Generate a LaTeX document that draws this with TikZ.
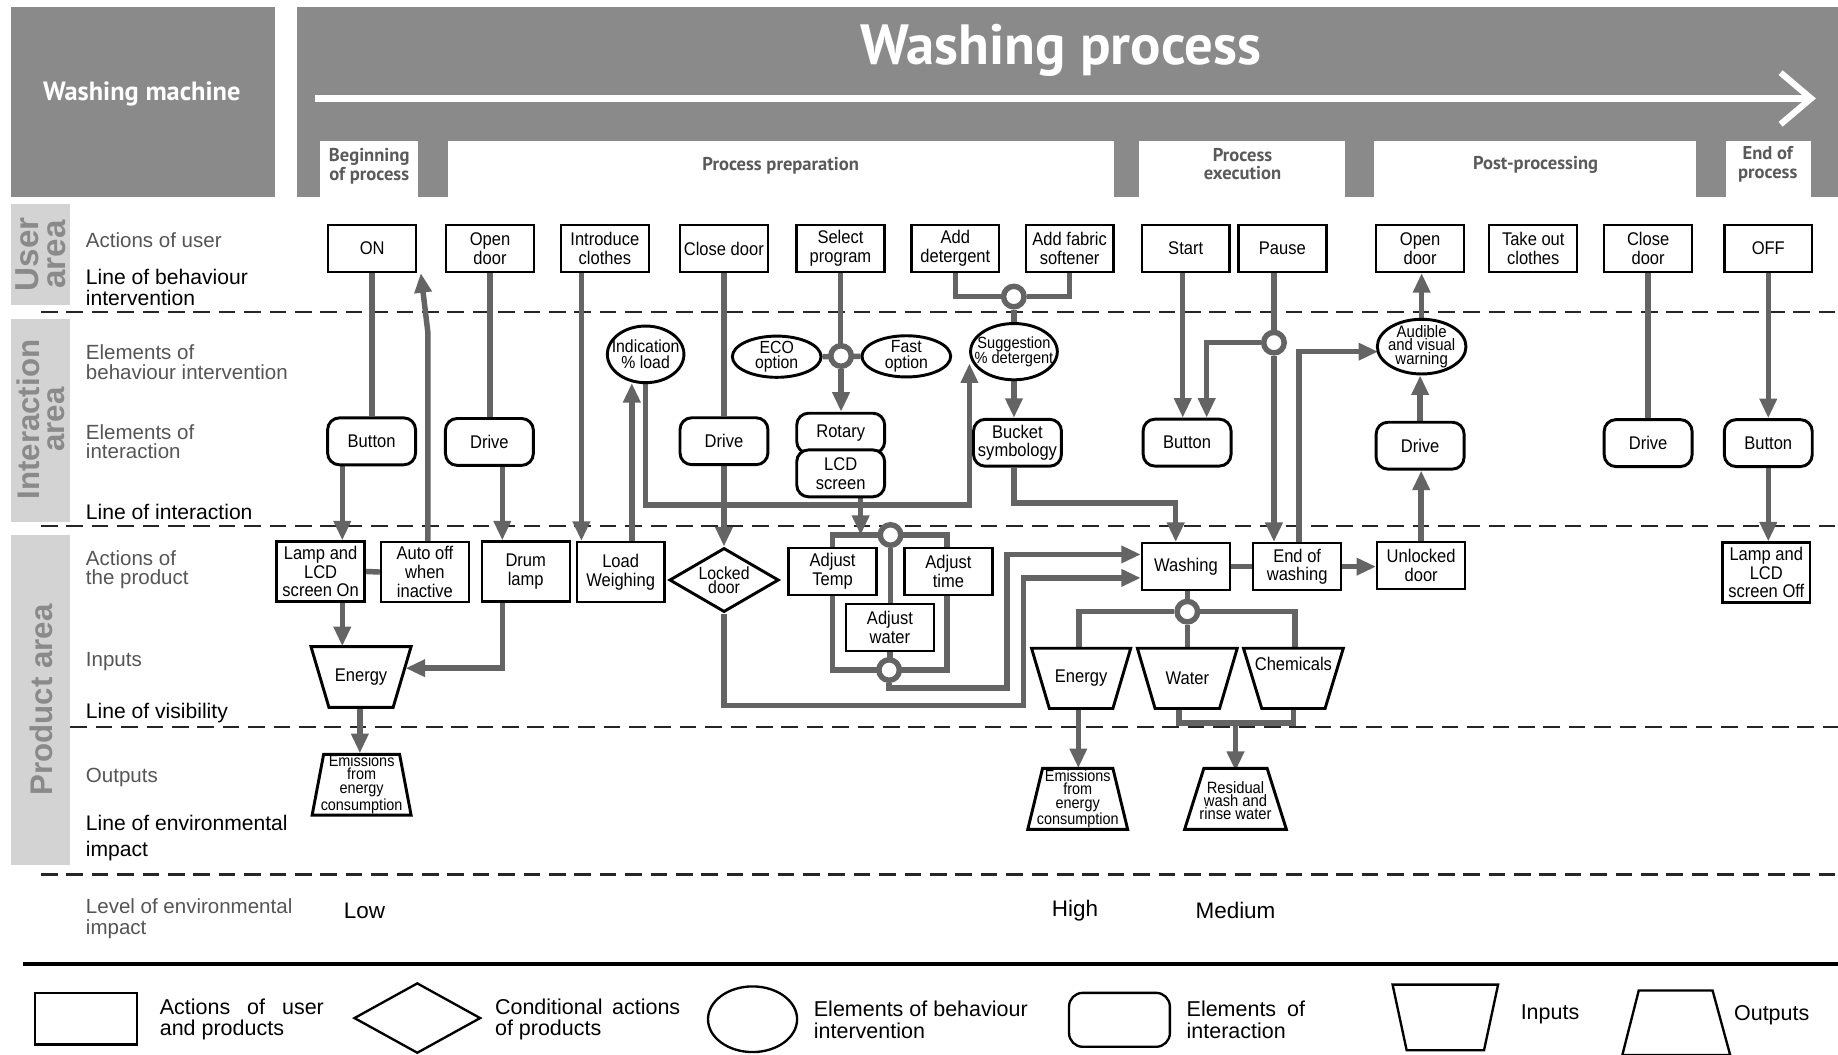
\documentclass[tikz,border=0pt]{standalone}
\usepackage{fontspec}
\setmainfont{Liberation Sans}
\newfontfamily\nar[FakeStretch=0.9]{Liberation Sans}
\newfontfamily\hfont{PT Sans}
\usetikzlibrary{calc,shapes.geometric,arrows.meta}
\pgfdeclarelayer{back}
\pgfdeclarelayer{bg}
\pgfsetlayers{back,bg,main}
\definecolor{cline}{RGB}{100,100,100}
\definecolor{hgrey}{RGB}{138,138,138}
\definecolor{barg}{RGB}{211,211,211}
\definecolor{bart}{RGB}{138,138,138}
\definecolor{labg}{RGB}{85,85,85}
\definecolor{phtxt}{RGB}{90,90,90}
\newcommand\mytrap[5]{\draw[trapline] (#1-#3,#2-#5) -- (#1+#3,#2-#5) -- (#1+#4,#2+#5) -- (#1-#4,#2+#5) -- cycle;}
\tikzset{
 bt/.style={font=\nar\fontsize{9.4}{9.6}\selectfont, align=center},
 abox/.style={bt, rectangle, draw, line width=1.2pt, fill=white, inner sep=0pt, minimum width=45pt, minimum height=24pt},
 pbox/.style={abox, minimum height=30.6pt},
 ibox/.style={bt, rectangle, rounded corners=6pt, draw, line width=1.5pt, fill=white, inner sep=0pt, minimum width=45pt, minimum height=24pt},
 ell/.style={ellipse, draw, line width=1.5pt, fill=white, inner sep=0pt},
 elt/.style={font=\nar\fontsize{9}{8}\selectfont, align=center, inner sep=0pt},
 cond/.style={diamond, draw, line width=1.5pt, fill=white, inner sep=0pt},
 junc/.style={circle, draw=cline, line width=2.8pt, fill=white, minimum size=10.5pt, inner sep=0pt},
 tz/.style={bt, inner sep=0pt, minimum width=51.2pt, minimum height=31.1pt},
 tzo/.style={font=\nar\fontsize{8.2}{6.9}\selectfont, align=center, inner sep=0pt, minimum width=50.6pt, minimum height=31.1pt},
 trapline/.style={draw, line width=1.5pt, fill=white, line join=miter},
 ln/.style={draw=cline, line width=2.8pt, line join=miter},
 ar/.style={ln, -{Triangle[length=10pt,width=8.5pt]}},
 dl/.style={draw=black!85, line width=1.1pt, dash pattern=on 8.5pt off 4.5pt},
 lab/.style={anchor=west, align=left, text=labg, inner sep=0pt, font=\fontsize{10.5}{9.8}\selectfont},
 labk/.style={anchor=west, align=left, text=black, inner sep=0pt, font=\fontsize{10.8}{10.8}\selectfont},
 arealab/.style={rotate=90, text=bart, align=center, inner sep=0pt, font=\bfseries\fontsize{16}{13}\selectfont},
 phasetxt/.style={text=phtxt, align=center, inner sep=0pt, font=\hfont\bfseries\fontsize{9.5}{9.6}\selectfont},
 lvl/.style={inner sep=0pt, font=\fontsize{11.5}{12}\selectfont},
 lgs/.style={draw, line width=1.2pt, inner sep=0pt},
 lgt/.style={anchor=west, align=left, inner sep=0pt, font=\fontsize{11}{10.8}\selectfont},
}
\begin{document}
\begin{tikzpicture}[x=0.6pt,y=-0.6pt]
\useasboundingbox (0,0) rectangle (1568,900);
\begin{pgfonlayer}{back}
\fill[white] (0,0) rectangle (1568,900);
\end{pgfonlayer}
% ---------- header ----------
\fill[hgrey] (9,6) rectangle (235,168);
\fill[hgrey] (253,6) rectangle (1568,168);
\node[text=white, inner sep=0pt, font=\hfont\bfseries\fontsize{13.5}{14}\selectfont] (wm) at (121,80) {Washing machine};
\node[text=white, inner sep=0pt, font=\hfont\bfseries\fontsize{29}{30}\selectfont] (wp) at (905,43) {Washing process};
\draw[white, line width=3.2pt] (269,84) -- (1544,84);
\draw[white, line width=3.2pt, line join=miter] (1519,62) -- (1545,84) -- (1519,106);
\fill[white] (273,120) rectangle (357,168);
\fill[white] (382,120) rectangle (950,168);
\fill[white] (972,120) rectangle (1147,168);
\fill[white] (1172,120) rectangle (1447,168);
\fill[white] (1472,120) rectangle (1545,168);
\node[phasetxt] (ph1) at (315,142) {Beginning\\of process};
\node[phasetxt] (ph2) at (666,141) {Process preparation};
\node[phasetxt] (ph3) at (1060,140) {Process\\execution};
\node[phasetxt] (ph4) at (1310,141) {Post-processing};
\node[phasetxt] (ph5) at (1508,140) {End of\\process};
% ---------- area bars ----------
\fill[barg] (9,174) rectangle (60,260);
\fill[barg] (9,272) rectangle (60,445);
\fill[barg] (9,456) rectangle (60,738);
\node[arealab, font=\bfseries\fontsize{17}{14}\selectfont] (ua) at (35,217) {User\\area};
\node[arealab] (ia) at (35,358) {Interaction\\area};
\node[arealab] (pa) at (35,597) {Product area};
% ---------- left labels ----------
\node[lab] (la1) at (73,205) {Actions of user};
\node[labk] (la2) at (73,245) {Line of behaviour\\intervention};
\node[lab] (la3) at (73,309) {Elements of\\behaviour intervention};
\node[lab] (la4) at (73,377) {Elements of\\interaction};
\node[labk] (la5) at (73,437) {Line of interaction};
\node[lab] (la6) at (73,486) {Actions of\\the product};
\node[lab] (la7) at (73,564) {Inputs};
\node[labk] (la8) at (73,608) {Line of visibility};
\node[lab] (la9) at (73,663) {Outputs};
\node[labk, font=\fontsize{10.8}{13.2}\selectfont] (la10) at (73,715) {Line of environmental\\impact};
\node[lab, font=\fontsize{10.5}{10.8}\selectfont] (la11) at (73,784) {Level of environmental\\impact};
% ---------- actions of user ----------
\node[abox] (on) at (317.5,212) {ON};
\node[abox] (od1) at (418,212) {Open\\door};
\node[abox] (intro) at (516,212) {Introduce\\clothes};
\node[abox] (cd1) at (617.5,212) {Close door};
\node[abox] (sel) at (717,212) {Select\\program};
\node[abox] (adet) at (815,212) {Add\\detergent};
\node[abox] (asoft) at (912.5,212) {Add fabric\\softener};
\node[abox] (start) at (1011.5,212) {Start};
\node[abox] (pause) at (1094,212) {Pause};
\node[abox] (od2) at (1211.5,212) {Open\\door};
\node[abox] (take) at (1308,212) {Take out\\clothes};
\node[abox] (cd2) at (1406,212) {Close\\door};
\node[abox] (off) at (1508.5,212) {OFF};
% ---------- behaviour intervention ----------
\node[ell, minimum width=39.2pt, minimum height=29pt, label={[elt]center:{Indication\\\% load}}] (indic) at (550.8,302.3) {};
\node[ell, minimum width=45.4pt, minimum height=21.1pt, label={[elt]center:{ECO\\option}}] (eco) at (662.6,304.3) {};
\node[ell, minimum width=45.4pt, minimum height=21.1pt, label={[elt]center:{Fast\\option}}] (fast) at (773.2,304) {};
\node[ell, minimum width=44.4pt, minimum height=28.8pt, label={[elt, font=\nar\fontsize{8.3}{7.8}\selectfont]center:{Suggestion\\\% detergent}}] (sugg) at (865,300) {};
\node[ell, minimum width=45.4pt, minimum height=28pt, label={[elt, font=\nar\fontsize{8.5}{6.8}\selectfont]center:{Audible\\and visual\\warning}}] (aud) at (1212.8,295.7) {};
% ---------- interaction ----------
\node[ibox] (btn1) at (317,376.5) {Button};
\node[ibox] (drv1) at (417.5,377) {Drive};
\node[ibox] (drv3) at (617.6,376.4) {Drive};
\node[ibox, minimum height=20.5pt] (rot) at (717.2,369.6) {Rotary};
\node[ibox] (lcd) at (717.2,403.8) {LCD\\screen};
\node[ibox] (bucket) at (868,377.7) {Bucket\\symbology};
\node[ibox] (btn4) at (1012.7,377.6) {Button};
\node[ibox] (drv5) at (1211.5,380.2) {Drive};
\node[ibox] (drv6) at (1406,378) {Drive};
\node[ibox] (btn7) at (1508.5,378) {Button};
% ---------- actions of the product ----------
\node[pbox] (lamp1) at (273.5,487.5) {Lamp and\\LCD\\screen On};
\node[pbox] (auto) at (362.5,488) {Auto off\\when\\inactive};
\node[pbox] (drum) at (448.5,487.5) {Drum\\lamp};
\node[pbox] (loadw) at (529.5,488) {Load\\Weighing};
\node[cond, minimum width=56pt, minimum height=32.8pt, label={[elt, font=\nar\fontsize{9}{7.4}\selectfont]center:{Locked\\door}}] (locked) at (617.7,494.8) {};
\node[abox] (adjT) at (710.3,487.4) {Adjust\\Temp};
\node[abox] (adjt) at (809.1,487.4) {Adjust\\time};
\node[abox] (adjw) at (759.2,535.5) {Adjust\\water};
\node[abox] (wash) at (1011.7,483.4) {Washing};
\node[abox] (endw) at (1106.6,483.4) {End of\\washing};
\node[abox] (unl) at (1212.4,482.6) {Unlocked\\door};
\node[pbox] (lampoff) at (1506.8,488.4) {Lamp and\\LCD\\screen Off};
% ---------- junctions ----------
\node[junc] (j1) at (717.5,303.7) {};
\node[junc] (j2) at (759.7,456.4) {};
\node[junc] (j3) at (758.5,571.6) {};
\node[junc] (j4) at (864.9,253) {};
\node[junc] (j5) at (1086.8,292.3) {};
\node[junc] (j6) at (1012.9,521.8) {};
% ---------- inputs ----------
\mytrap{308}{577.5}{42.7}{27.4}{25.9}
\node[tz] (e1) at (308,577.5) {Energy};
\mytrap{922.3}{578.7}{42.3}{27.1}{25.7}
\node[tz] (e2) at (922.3,578.7) {Energy};
\mytrap{1012.9}{578.7}{42.6}{27.5}{25.7}
\node[tz] (water) at (1012.9,578.7) {Water};
\mytrap{1103.4}{578.7}{42.6}{27}{25.7}
\node[tz, label={[bt, inner sep=0pt, yshift=7.6pt]center:Chemicals}] (chem) at (1103.4,578.7) {};
% ---------- outputs ----------
\mytrap{308.5}{669.4}{32.4}{42.2}{25.9}
\node[tzo] (em1) at (308.5,668.8) {Emissions\\from\\energy\\consumption};
\mytrap{919.4}{681.5}{30}{42.6}{26}
\node[tzo] (em2) at (919.4,681.5) {Emissions\\from\\energy\\consumption};
\mytrap{1054}{681.5}{27}{43.4}{26}
\node[tzo, font=\nar\fontsize{8.4}{6.9}\selectfont] (res) at (1054,683) {Residual\\wash and\\rinse water};
% ---------- levels ----------
\node[lvl] (lvlow) at (311,777) {Low};
\node[lvl] (lvhigh) at (917,777) {High};
\node[lvl] (lvmed) at (1054,777) {Medium};
% ---------- legend ----------
\node[lgs, rectangle, minimum width=52.2pt, minimum height=26.4pt] (lg1) at (73.5,869) {};
\node[lgt] (lt1) at (136,870) {\makebox[84pt][s]{Actions of user}\\and products};
\node[lgs, diamond, minimum width=64.8pt, minimum height=36pt] (lg2) at (356,868.5) {};
\node[lgt] (lt2) at (422,870) {\makebox[94.8pt][s]{Conditional actions}\\of products};
\node[lgs, ellipse, minimum width=45.6pt, minimum height=33.6pt] (lg3) at (642,869.5) {};
\node[lgt] (lt3) at (694,870) {Elements of behaviour\\intervention};
\node[lgs, rectangle, rounded corners=7pt, minimum width=51.6pt, minimum height=27.6pt] (lg4) at (955,870) {};
\node[lgt] (lt4) at (1012,870) {\makebox[60.6pt][s]{Elements of}\\interaction};
\draw[lgs, line join=miter] (1188,840) -- (1278,840) -- (1266,896) -- (1200,896) -- cycle;
\node[lgt] (lt5) at (1297,865) {Inputs};
\draw[lgs, line join=miter] (1398,845) -- (1461,845) -- (1476,900) -- (1384,900) -- cycle;
\node[lgt] (lt6) at (1479,866) {Outputs};
% ---------- background layer: lines and connectors ----------
\begin{pgfonlayer}{bg}
\draw[dl] (35,266.5) -- (1568,266.5);
\draw[dl] (35,448.7) -- (1568,448.7);
\draw[dl] (60,620.5) -- (1568,620.5);
\draw[dl] (35,746) -- (1568,746);
\draw[line width=1.8pt] (20,822.5) -- (1568,822.5);
% beginning
\draw[ln] (on.south) -- (on.south |- btn1.north);
\coordinate (k2) at ($(btn1.south)+(-25,0)$);
\draw[ar] (k2) -- (k2 |- lamp1.north);
\draw[ln] (lamp1.east) -- (auto.west);
\coordinate (k4) at ($(auto.north)+(2.5,0)$);
\draw[ar] (k4) -- ++(0,-178) -- ($(on.south east)+(3,0)$);
\draw[ar] (k2 |- lamp1.south) -- (k2 |- e1.north);
\coordinate (k9) at ($(e1.south)+(-1,0)$);
\draw[ar] (k9) -- (k9 |- em1.north);
% open door / drum
\draw[ln] (od1.south) -- (od1.south |- drv1.north);
\coordinate (k6) at ($(drv1.south)+(11,0)$);
\draw[ar] (k6) -- (k6 |- drum.north);
\coordinate (k7) at ($(drum.south)+(-20,0)$);
\draw[ar] (k7) |- ($(e1.center)+(38,-7.5)$);
% clothes / load
\coordinate (k10) at ($(intro.south)+(-20,0)$);
\draw[ar] (k10) -- (k10 |- loadw.north);
\coordinate (k11) at ($(loadw.north)+(9.5,0)$);
\draw[ar] (k11) -- ($(k11 |- indic.south)+(0,-1)$);
\draw[ar] (indic.south) |- ($(sugg.center)+(-38,131)$) -- ($(sugg.center)+(-38,10)$);
% close door
\draw[ln] (cd1.south) -- (cd1.south |- drv3.north);
\draw[ar] (drv3.south) -- (drv3.south |- locked.north);
\coordinate (k15) at ($(wash.west)+(0,9.6)$);
\draw[ar] (locked.south) -- ++(0,78.5) -| ($(k15)+(-100,0)$) -- (k15);
% program selection
\draw[ln] (sel.south) -- (sel.south |- j1);
\draw[ln] (eco.east) -- (fast.west);
\draw[ar] (j1) -- (j1 |- rot.north);
\coordinate (k18) at ($(lcd.south)+(17,0)$);
\draw[ar] (k18) -- (k18 |- j2);
\draw[ln] ($(j2)+(-49.6,0)$) rectangle ($(j3)+(49.4,0)$);
\draw[ln] (j2) -- (j2 |- adjw.north);
\draw[ln] (adjw.south) -- (adjw.south |- j3);
\coordinate (k20) at ($(wash.west)+(0,-10.4)$);
\draw[ar] (j3) -- ++(0,15.4) -| ($(k20)+(-114,0)$) -- (k20);
% detergent
\draw[ln] (adet.south) |- (j4) -| (asoft.south);
\draw[ln] (j4) -- (j4 |- sugg.north);
\draw[ar] (sugg.south) -- (sugg.south |- bucket.north);
\coordinate (k23) at ($(bucket.south)+(-3,0)$);
\coordinate (k23b) at ($(wash.north)+(-8.7,0)$);
\draw[ar] (k23) -- ++(0,30) -| (k23b);
% start / pause
\coordinate (k24) at ($(start.south)+(-2.5,0)$);
\draw[ar] (k24) -- (k24 |- btn4.north);
\draw[ln] (pause.south -| j5) -- (j5);
\coordinate (k25) at ($(btn4.north)+(16.7,0)$);
\draw[ar] (j5) -| (k25);
\draw[ar] (j5) -- (j5 |- endw.north);
% washing
\draw[ln] (wash.east) -- (endw.west);
\draw[ar] (endw.east) -- (endw.east -| unl.west);
\coordinate (k28) at ($(endw.north)+(1.6,0)$);
\coordinate (k28b) at ($(aud.center)+(-37.2,4.3)$);
\draw[ar] (k28) |- (k28b);
\draw[ar] (unl.north) -- (unl.north |- drv5.south);
\draw[ar] (drv5.north) -- (drv5.north |- aud.south);
\draw[ar] (aud.north) -- (aud.north |- od2.south);
\draw[ln] (j6 |- wash.south) -- (j6);
\draw[ln] ($(e2.north)+(-1.8,0)$) |- (j6) -| ($(chem.north)+(1.4,0)$);
\draw[ln] (j6) -- (j6 |- water.north);
\coordinate (k31) at ($(e2.south)+(-2.4,0)$);
\draw[ar] (k31) -- (k31 |- em2.north);
\coordinate (k32) at ($(water.south)+(-7,0)$);
\coordinate (k32b) at ($(res.north)+(0,-40)$);
\draw[ln] (k32) |- (k32b) -| (chem.south);
\draw[ar] (k32b) -- ($(k32b)+(0,41)$);
% end
\draw[ln] (cd2.south) -- (cd2.south |- drv6.north);
\draw[ar] (off.south) -- (off.south |- btn7.north);
\draw[ar] (btn7.south) -- (btn7.south |- lampoff.north);
\end{pgfonlayer}
\end{tikzpicture}
\end{document}
